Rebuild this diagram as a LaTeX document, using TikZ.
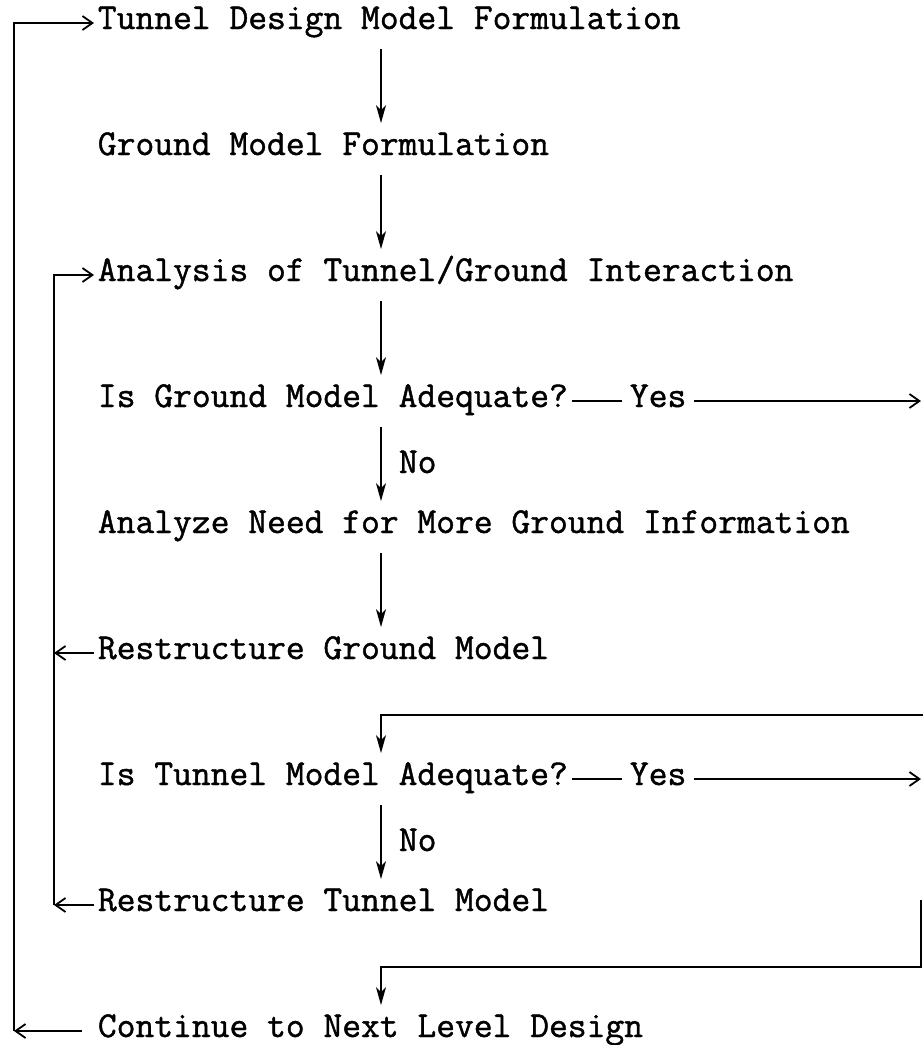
\documentclass[tikz,border=0pt]{standalone}
\usepackage{fontspec}
\newfontfamily\typer[FakeBold=1.2]{Latin Modern Mono}
\usetikzlibrary{arrows.meta}
\begin{document}
\begin{tikzpicture}[x=1pt,y=-1pt,line width=1.8pt,
  lbl/.style={font=\typer\fontsize{36.5}{42}\selectfont,inner xsep=3pt,inner ysep=9pt,
              text height=22pt,text depth=10pt,anchor=base west},
  yeslbl/.style={lbl,inner xsep=7pt},
  nolbl/.style={font=\typer\fontsize{36.5}{42}\selectfont,inner sep=0pt,anchor=base west},
  vtip/.style={-{Stealth[length=18pt,width=10pt,inset=5pt]}},
  htip/.style={-{Straight Barb[length=10pt,width=14pt]}}]
\fill[white] (0,0) rectangle (923,1045);
\useasboundingbox (0,0) rectangle (923,1045);

% column guides
\coordinate (ax) at (381,0);
\coordinate (ol) at (14,0);
\coordinate (il) at (54,0);
\coordinate (rx) at (921,0);
\coordinate (lt) at (923,715);
\coordinate (lb) at (921,900);
\coordinate (lb2) at (921,967);

% steps
\node[lbl] (t1) at (94,29) {Tunnel Design Model Formulation};
\node[lbl] (t2) at (94,155) {Ground Model Formulation};
\node[lbl] (t3) at (94,281) {Analysis of Tunnel/Ground Interaction};
\node[lbl] (q1) at (94,407) {Is Ground Model Adequate?};
\node[yeslbl] (y1) at (622,407) {Yes};
\node[lbl] (t6) at (94,533) {Analyze Need for More Ground Information};
\node[lbl] (t7) at (94,659) {Restructure Ground Model};
\node[lbl] (q2) at (94,785) {Is Tunnel Model Adequate?};
\node[yeslbl] (y2) at (622,785) {Yes};
\node[lbl] (t11) at (94,911) {Restructure Tunnel Model};
\node[lbl] (t13) at (94,1037) {Continue to Next Level Design};
\node[nolbl] (n1) at (398,473) {No};
\node[nolbl] (n2) at (398,851) {No};

% main flow
\draw[vtip] (t1.south -| ax) -- (t2.north -| ax);
\draw[vtip] (t2.south -| ax) -- (t3.north -| ax);
\draw[vtip] (t3.south -| ax) -- (q1.north -| ax);
\draw[vtip] (q1.south -| ax) -- (t6.north -| ax);
\draw[vtip] (t6.south -| ax) -- (t7.north -| ax);
\draw[vtip] (q2.south -| ax) -- (t11.north -| ax);

% yes branches
\draw (q1.east) -- (y1.west);
\draw[htip] (y1.east) -- (y1.east -| rx);
\draw (q2.east) -- (y2.west);
\draw[htip] (y2.east) -- (y2.east -| rx);

% loops into the tunnel model check and the next level
\draw[vtip] (lt) -- (lt -| ax) -- (q2.north -| ax);
\draw[vtip] (lb) -- (lb2) -- (lb2 -| ax) -- (t13.north -| ax);

% inner loop back to the interaction analysis
\draw[htip] (t7.west) -- (t7.west -| il);
\draw[htip] (t11.west) -- (t11.west -| il);
\draw[htip] (t11.west -| il) -- (t3.west -| il) -- (t3.west);

% outer loop back to the design model
\draw[htip] (t13.west) ++(-12,0) -- (t13.west -| ol);
\draw[htip] (t13.west -| ol) -- (t1.west -| ol) -- (t1.west);
\end{tikzpicture}
\end{document}
